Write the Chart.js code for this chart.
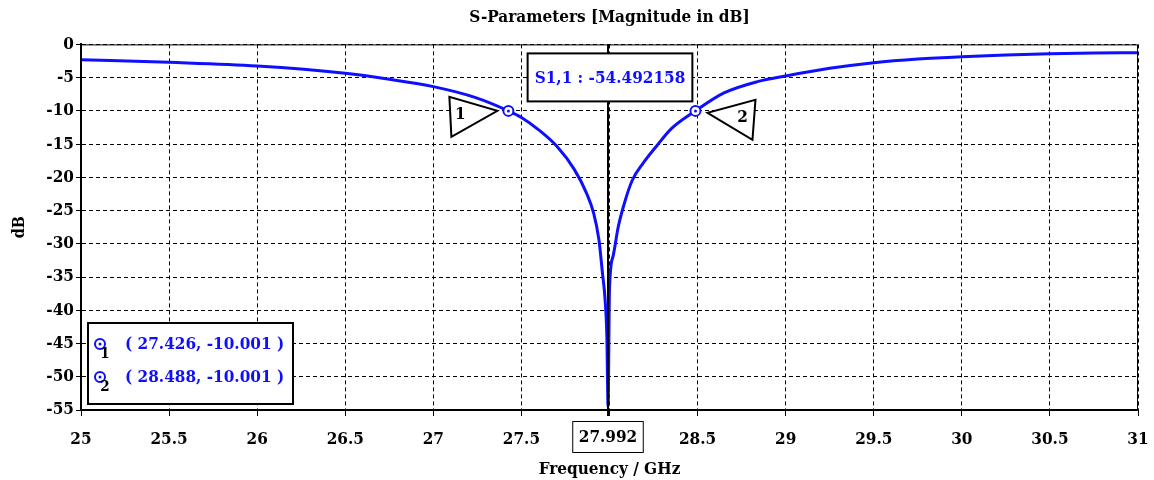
<!DOCTYPE html>
<html>
<head>
<meta charset="utf-8">
<script src="https://cdn.jsdelivr.net/npm/chart.js@4.4.1/dist/chart.umd.min.js"></script>
<style>
  html, body { margin: 0; padding: 0; background: #fff; }
</style>
</head>
<body>
<canvas id="sparams" width="1154" height="480"></canvas>
<script>
// === Data ===
const FREQ = [25.0, 25.5, 26.0, 26.5, 26.75, 27.0, 27.24, 27.426, 27.5, 27.6, 27.7, 27.8, 27.87, 27.91, 27.94,
              27.96, 27.975, 27.985, 27.992, 28.0, 28.02, 28.05, 28.09, 28.13, 28.19, 28.27, 28.35, 28.488,
              28.65, 28.84, 29.0, 29.25, 29.5, 29.75, 30.0, 30.25, 30.5, 30.75, 31.0];
const S11 = [-2.3, -2.7, -3.25, -4.35, -5.25, -6.35, -8.0, -10.0, -11.0, -12.9, -15.3, -18.8, -22.4, -25.4, -29.4,
             -34.4, -38.4, -44.0, -54.49, -36.8, -31.9, -27.4, -23.4, -20.4, -17.9, -15.2, -12.7, -10.0,
             -7.3, -5.6, -4.75, -3.6, -2.75, -2.2, -1.85, -1.6, -1.4, -1.3, -1.25];
const MARKER_FREQ = [27.426, 28.488];
const MARKER_DB = [-10.001, -10.001];
const MARKER_IDS = ["1", "2"];
const DIP_FREQ = 27.992;
const DIP_DB = -54.492158;
const HIDDEN_X_TICK = 28;

// === Style ===
const FONT = '"DejaVu Serif Condensed", "DejaVu Serif", serif';
const BLUE = "#0f0fff";

function boxedText(ctx, text, cx, cy, h, pad, color, lw) {
  ctx.font = "bold 17px " + FONT;
  const w = ctx.measureText(text).width + pad * 2;
  ctx.fillStyle = "#fff";
  ctx.fillRect(cx - w / 2, cy - h / 2, w, h);
  ctx.lineWidth = lw; ctx.strokeStyle = "#000";
  ctx.strokeRect(cx - w / 2, cy - h / 2, w, h);
  ctx.fillStyle = color; ctx.textAlign = "center"; ctx.textBaseline = "middle";
  ctx.fillText(text, cx, cy + 1);
}

function markerIcon(ctx, x, y) {
  ctx.lineWidth = 2; ctx.strokeStyle = BLUE; ctx.fillStyle = "#fff";
  ctx.beginPath(); ctx.arc(x, y, 5, 0, Math.PI * 2); ctx.fill(); ctx.stroke();
  ctx.fillStyle = BLUE;
  ctx.beginPath(); ctx.arc(x, y, 1.5, 0, Math.PI * 2); ctx.fill();
}

// pointer triangles next to each marker (offsets in px from the marker)
const TRI = [
  { pts: [[-59, -14], [-57, 26], [-11, 0]], lbl: [-48, 4] },
  { pts: [[60, -11], [57, 29], [12, 2]], lbl: [47, 7] }
];

const overlay = {
  id: "overlay",
  beforeDraw(chart) {
    const c = chart.ctx;
    c.save(); c.fillStyle = "#fff"; c.fillRect(0, 0, chart.width, chart.height); c.restore();
  },
  afterDatasetsDraw(chart) {
    const { ctx, chartArea: a, scales: { x, y } } = chart;
    ctx.save();

    // frame top/right
    ctx.strokeStyle = "#000"; ctx.lineWidth = 1;
    ctx.strokeRect(a.left + 0.5, a.top + 0.5, a.right - a.left - 1, a.bottom - a.top);

    // dip cursor line + value box
    const dx = Math.round(x.getPixelForValue(DIP_FREQ));
    ctx.lineWidth = 2;
    ctx.beginPath(); ctx.moveTo(dx, a.top); ctx.lineTo(dx, a.bottom + 6); ctx.stroke();
    boxedText(ctx, "S1,1 : " + DIP_DB.toFixed(6), dx + 2, a.top + 33, 48, 7, BLUE, 2);
    boxedText(ctx, DIP_FREQ.toFixed(3), dx, a.bottom + 27, 31, 6, "#000", 1);

    // marker pointers
    MARKER_FREQ.forEach((f, i) => {
      const mx = x.getPixelForValue(f), my = y.getPixelForValue(MARKER_DB[i]);
      const t = TRI[i];
      ctx.beginPath();
      t.pts.forEach(([ox, oy], k) => k ? ctx.lineTo(mx + ox, my + oy) : ctx.moveTo(mx + ox, my + oy));
      ctx.closePath();
      ctx.fillStyle = "#fff"; ctx.fill();
      ctx.lineWidth = 2; ctx.strokeStyle = "#000"; ctx.stroke();
      ctx.fillStyle = "#000"; ctx.font = "bold 17px " + FONT;
      ctx.textAlign = "center"; ctx.textBaseline = "middle";
      ctx.fillText(MARKER_IDS[i], mx + t.lbl[0], my + t.lbl[1]);
      markerIcon(ctx, mx, my);
    });

    // marker table, lower left
    const bx = a.left + 7, by = a.bottom - 87, bw = 205, bh = 81;
    ctx.fillStyle = "#fff"; ctx.fillRect(bx, by, bw, bh);
    ctx.lineWidth = 2; ctx.strokeStyle = "#000"; ctx.strokeRect(bx, by, bw, bh);
    MARKER_FREQ.forEach((f, i) => {
      const ry = by + 21 + i * 33;
      markerIcon(ctx, bx + 12, ry);
      ctx.fillStyle = "#000"; ctx.font = "bold 15px " + FONT;
      ctx.textAlign = "center"; ctx.textBaseline = "middle";
      ctx.fillText(MARKER_IDS[i], bx + 17, ry + 10);
      ctx.fillStyle = BLUE; ctx.font = "bold 17px " + FONT; ctx.textAlign = "left";
      ctx.fillText("( " + f.toFixed(3) + ", " + MARKER_DB[i].toFixed(3) + " )", bx + 37, ry + 1);
    });
    ctx.restore();
  }
};

new Chart(document.getElementById("sparams"), {
  type: "scatter",
  data: {
    datasets: [
      {
        label: "S1,1",
        data: FREQ.map((f, i) => ({ x: f, y: S11[i] })),
        showLine: true,
        borderColor: BLUE,
        borderWidth: 3,
        pointRadius: 0,
        cubicInterpolationMode: "monotone"
      }
    ]
  },
  options: {
    responsive: false,
    animation: false,
    devicePixelRatio: 1,
    layout: { padding: { left: 0, right: 16, top: 0, bottom: 0 } },
    plugins: {
      legend: { display: false },
      tooltip: { enabled: false },
      title: {
        display: true,
        fullSize: false,
        text: "S-Parameters [Magnitude in dB]",
        color: "#000",
        font: { family: FONT, size: 17, weight: "bold", lineHeight: 1.2 },
        padding: { top: 7, bottom: 17 }
      }
    },
    scales: {
      x: {
        type: "linear",
        min: 25, max: 31,
        afterFit: (s) => { s.height = 70; s.paddingLeft = 0; s.paddingRight = 0; },
        border: { display: true, color: "#000", width: 2, dash: [4, 3] },
        grid: { color: "#000", lineWidth: 1, tickLength: 6, tickBorderDash: [] },
        ticks: {
          stepSize: 0.5, color: "#000", padding: 13,
          font: { family: FONT, size: 17, weight: "bold" },
          callback: (v) => v === HIDDEN_X_TICK ? "" : String(v)
        },
        title: {
          display: true, text: "Frequency / GHz", color: "#000",
          font: { family: FONT, size: 17, weight: "bold", lineHeight: 1.2 },
          padding: { top: 4, bottom: 0 }
        }
      },
      y: {
        min: -55, max: 0,
        afterFit: (s) => { s.width = 81; s.paddingTop = 0; s.paddingBottom = 0; },
        border: { display: true, color: "#000", width: 2, dash: [4, 3] },
        grid: { color: "#000", lineWidth: 1, tickLength: 5, tickBorderDash: [] },
        ticks: {
          stepSize: 5, color: "#000", padding: 2,
          font: { family: FONT, size: 17, weight: "bold" },
          callback: (v) => String(v)
        },
        title: {
          display: true, text: "dB", color: "#000",
          font: { family: FONT, size: 16, weight: "bold", lineHeight: 1.2 },
          padding: { top: 10, bottom: 0 }
        }
      }
    }
  },
  plugins: [overlay]
});
</script>
</body>
</html>
